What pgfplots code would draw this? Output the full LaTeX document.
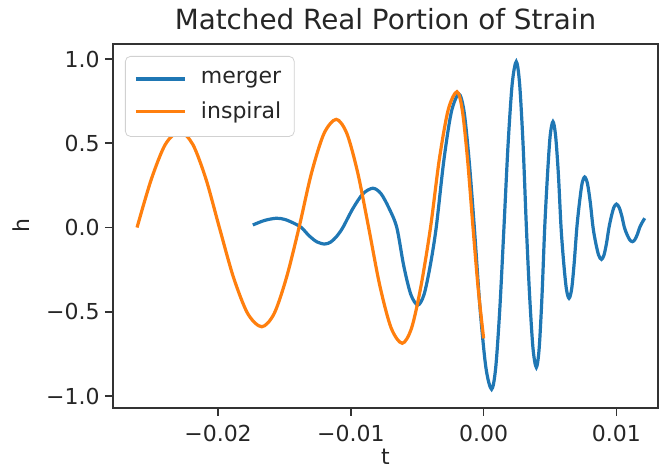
\documentclass[border=0pt]{standalone}
\usepackage{pgfplots}
\pgfplotsset{compat=1.18}
\usepackage{fontspec}
\setmainfont{DejaVu Sans}
\definecolor{tabblue}{HTML}{1F77B4}
\definecolor{taborange}{HTML}{FF7F0E}
\begin{document}
\begin{tikzpicture}
\path[use as bounding box] (-56.5pt,-31pt) rectangle (273.5pt,204pt);
\begin{axis}[
  at={(0,0)}, anchor=south west,
  scale only axis, width=272.5pt, height=182pt,
  xmin=-0.02791, xmax=0.01313, ymin=-1.071, ymax=1.089,
  axis line style={black!80, line width=0.85pt},
  tick style={black!80, line width=0.85pt},
  tick align=outside, tick pos=left, major tick length=4pt,
  scaled x ticks=false, scaled y ticks=false,
  xtick={-0.02,-0.01,0,0.01}, xticklabels={−0.02,−0.01,0.00,0.01},
  ytick={-1,-0.5,0,0.5,1}, yticklabels={−1.0,−0.5,0.0,0.5,1.0},
  ticklabel style={font=\fontsize{11}{13}\selectfont, text=black!85},
  xticklabel style={anchor=north, inner sep=0pt, yshift=-4.5pt},
  yticklabel style={anchor=east, inner sep=0pt, xshift=-2.5pt},
  title={Matched Real Portion of Strain},
  title style={at={(axis description cs:0.5,1)}, anchor=base, yshift=1pt, font=\fontsize{13.9}{16}\selectfont, text=black!85},
  xlabel={t}, ylabel={h},
  xlabel style={at={([yshift=-28.5pt]axis description cs:0.5,0)}, anchor=base, inner sep=0pt, font=\fontsize{11}{13}\selectfont, text=black!85},
  ylabel style={at={([xshift=-41.5pt]axis description cs:0,0.5)}, anchor=base, inner sep=0pt, font=\fontsize{11}{13}\selectfont, text=black!85},
  legend style={at={(0,1)}, anchor=north west, xshift=6pt, yshift=-6pt,
    draw=black!18, rounded corners=2.5pt, fill=white,
    font=\fontsize{11}{13}\selectfont, text=black!85,
    inner xsep=4.5pt, inner ysep=5.5pt, row sep=3.5pt},
  legend cell align=left,
  legend image code/.code={\draw[#1] (0pt,0pt) -- (24.5pt,0pt); \path[draw=none,fill=none] (0pt,-0.1pt) rectangle (30.5pt,0.1pt);},
  every axis plot/.append style={line width=1.6pt},
]
\addplot[tabblue, smooth] coordinates {
(-0.01738,0.015) (-0.0165,0.042) (-0.01561,0.055) (-0.01498,0.048) (-0.01436,0.028) (-0.01373,0)
(-0.01314,-0.049) (-0.01256,-0.085) (-0.01197,-0.098) (-0.01151,-0.086) (-0.01106,-0.052) (-0.0106,0)
(-0.00985,0.112) (-0.00909,0.200) (-0.00834,0.233) (-0.00774,0.202) (-0.00714,0.117) (-0.00654,0)
(-0.00601,-0.23) (-0.00548,-0.398) (-0.00495,-0.46) (-0.00449,-0.398) (-0.00403,-0.23) (-0.00357,0)
(-0.003,0.396) (-0.00243,0.686) (-0.00186,0.792) (-0.00147,0.686) (-0.00109,0.396) (-0.0007,0)
(-0.00027,-0.48) (0.00017,-0.831) (0.0006,-0.96) (0.00091,-0.831) (0.00122,-0.48) (0.00153,0)
(0.00184,0.492) (0.00215,0.852) (0.00246,0.984) (0.00271,0.852) (0.00297,0.492) (0.00322,0)
(0.00347,-0.415) (0.00372,-0.719) (0.00397,-0.83) (0.00418,-0.719) (0.00439,-0.415) (0.0046,0)
(0.00481,0.314) (0.00501,0.544) (0.00522,0.628) (0.00542,0.544) (0.00563,0.314) (0.00583,0)
(0.00603,-0.21) (0.00623,-0.364) (0.00643,-0.42) (0.00663,-0.364) (0.00682,-0.21) (0.00702,0)
(0.00722,0.15) (0.00741,0.26) (0.00761,0.30) (0.00782,0.26) (0.00803,0.15) (0.00824,0)
(0.00845,-0.095) (0.00866,-0.164) (0.00887,-0.189) (0.00906,-0.164) (0.00925,-0.095) (0.00944,0)
(0.00963,0.07) (0.00981,0.12) (0.01,0.139) (0.0102,0.12) (0.0104,0.07) (0.0106,0)
(0.0108,-0.042) (0.011,-0.073) (0.0112,-0.084) (0.01138,-0.073) (0.01157,-0.042) (0.01175,0)
(0.01194,0.03) (0.01213,0.055)
};
\addlegendentry{merger}
\addplot[taborange, smooth] coordinates {
(-0.0261,0) (-0.02503,0.285) (-0.02397,0.493) (-0.0229,0.569) (-0.0219,0.493) (-0.0209,0.285) (-0.0199,0)
(-0.01884,-0.295) (-0.01777,-0.510) (-0.01671,-0.589) (-0.01577,-0.510) (-0.01484,-0.295) (-0.0139,0)
(-0.01297,0.321) (-0.01203,0.556) (-0.0111,0.642) (-0.01029,0.556) (-0.00947,0.321) (-0.00866,0)
(-0.00782,-0.344) (-0.00697,-0.595) (-0.00613,-0.687) (-0.00542,-0.595) (-0.00471,-0.344) (-0.004,0)
(-0.00334,0.403) (-0.00267,0.698) (-0.00201,0.806) (-0.00161,0.698) (-0.00121,0.403) (-0.0008,0)
(-0.0004,-0.37) (0,-0.658)
};
\addlegendentry{inspiral}
\end{axis}
\end{tikzpicture}
\end{document}
